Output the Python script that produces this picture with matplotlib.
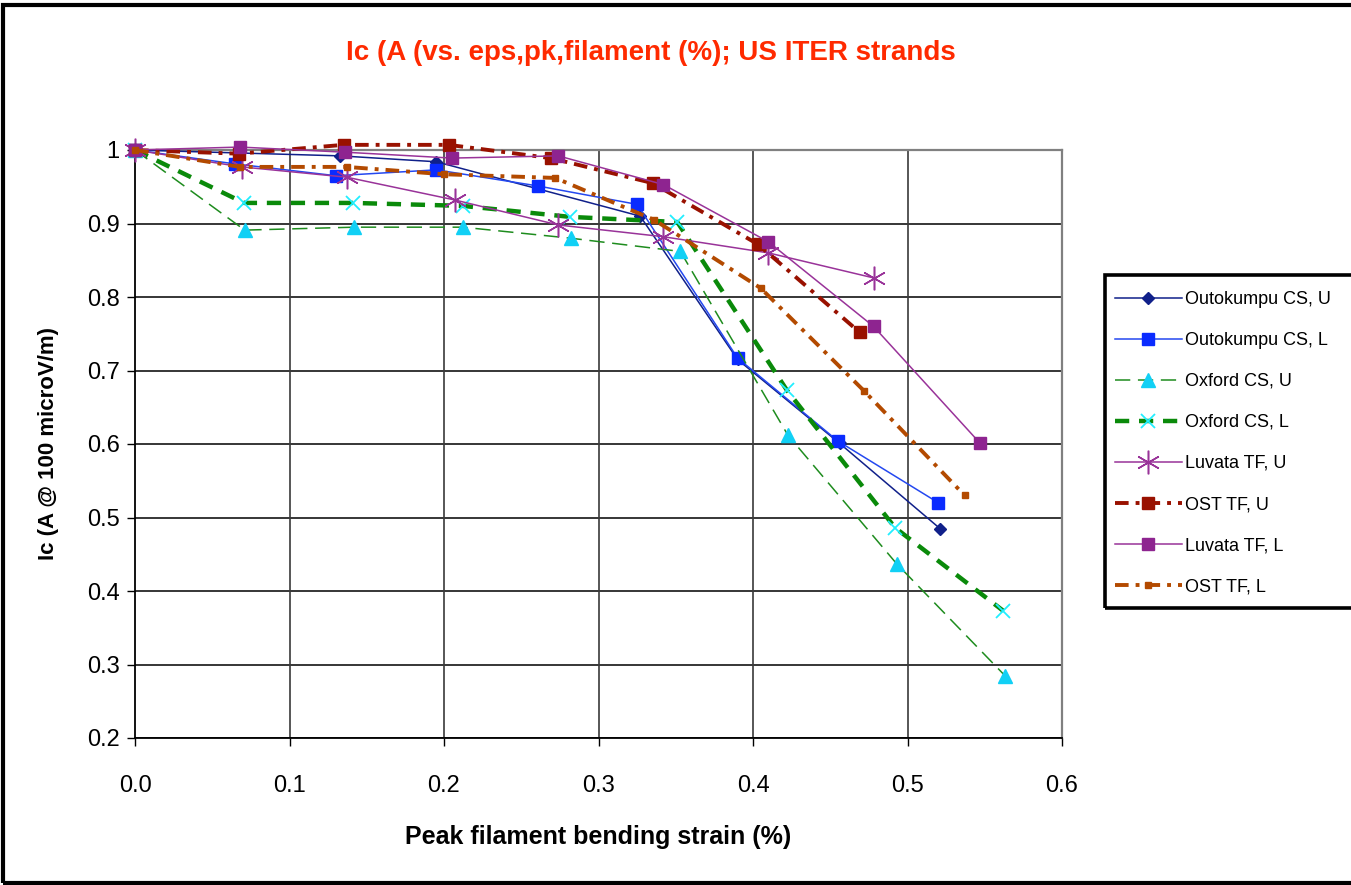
import matplotlib
matplotlib.use("Agg")
import matplotlib.pyplot as plt
from matplotlib.patches import Rectangle

# ---- data ----
out_u_x = [0.0, 0.133, 0.195, 0.327, 0.390, 0.456, 0.521]
out_u_y = [1.0, 0.992, 0.984, 0.910, 0.715, 0.601, 0.485]

out_l_x = [0.0, 0.065, 0.130, 0.195, 0.261, 0.325, 0.390, 0.455, 0.520]
out_l_y = [1.0, 0.981, 0.965, 0.973, 0.951, 0.926, 0.717, 0.604, 0.520]

oxf_u_x = [0.0, 0.071, 0.142, 0.212, 0.282, 0.353, 0.4226, 0.493, 0.563]
oxf_u_y = [1.0, 0.891, 0.895, 0.895, 0.880, 0.862, 0.612, 0.437, 0.285]

oxf_l_x = [0.0, 0.0706, 0.141, 0.212, 0.2816, 0.351, 0.422, 0.492, 0.562]
oxf_l_y = [1.0, 0.928, 0.928, 0.924, 0.909, 0.902, 0.673, 0.486, 0.373]

luv_u_x = [0.0, 0.069, 0.137, 0.207, 0.274, 0.342, 0.410, 0.478]
luv_u_y = [1.0, 0.977, 0.963, 0.932, 0.898, 0.882, 0.860, 0.826]

ost_u_x = [0.0, 0.067, 0.135, 0.203, 0.269, 0.335, 0.403, 0.469]
ost_u_y = [1.0, 0.995, 1.007, 1.007, 0.989, 0.955, 0.872, 0.752]

luv_l_x = [0.0, 0.068, 0.136, 0.205, 0.274, 0.342, 0.410, 0.478, 0.547]
luv_l_y = [1.0, 1.004, 0.997, 0.989, 0.992, 0.953, 0.875, 0.760, 0.601]

ost_l_x = [0.0, 0.068, 0.137, 0.200, 0.272, 0.336, 0.405, 0.472, 0.537]
ost_l_y = [1.0, 0.977, 0.977, 0.967, 0.962, 0.905, 0.812, 0.672, 0.530]

labels = ["Outokumpu CS, U", "Outokumpu CS, L", "Oxford CS, U", "Oxford CS, L",
          "Luvata TF, U", "OST TF, U", "Luvata TF, L", "OST TF, L"]
xticks = [0.0, 0.1, 0.2, 0.3, 0.4, 0.5, 0.6]
yticks = [0.2, 0.3, 0.4, 0.5, 0.6, 0.7, 0.8, 0.9, 1.0]
ytick_labels = ["0.2", "0.3", "0.4", "0.5", "0.6", "0.7", "0.8", "0.9", "1"]

SANS = ["Liberation Sans", "DejaVu Sans"]

fig = plt.figure(figsize=(13.51, 8.85), dpi=100)
ax = fig.add_axes([135/1351, 1-738/885, (1062-135)/1351, (738-150)/885])

# grid
for yv in yticks:
    ax.axhline(yv, color="black", lw=1.1, zorder=1)
for xv in xticks[1:-1]:
    ax.axvline(xv, color="#3a3a3a", lw=1.2, zorder=1)

asterisk = (6, 2, 0)
purple = "#993399"

series = [
    (out_u_x, out_u_y, dict(color="#10208A", lw=1.1, ls="-", marker="D", ms=6,
                            mfc="#10208A", mec="#10208A")),
    (out_l_x, out_l_y, dict(color="#2448F0", lw=1.1, ls="-", marker="s", ms=9,
                            mfc="#0A2BFF", mec="#0A2BFF")),
    (oxf_u_x, oxf_u_y, dict(color="#1E8C1E", lw=1.1, ls=(0, (10, 5)), marker="^", ms=10,
                            mfc="#11D0F5", mec="#11D0F5")),
    (oxf_l_x, oxf_l_y, dict(color="#0A8A0A", lw=3.2, ls=(0, (3.2, 2.2)), marker="x", ms=10,
                            mfc="#22EEFF", mec="#22EEFF", mew=1.3)),
    (luv_u_x, luv_u_y, dict(color=purple, lw=1.1, ls="-", marker=asterisk, ms=17,
                            mfc=purple, mec=purple, mew=1.1)),
    (ost_u_x, ost_u_y, dict(color="#991100", lw=2.8, ls=(0, (3.5, 1.8, 1, 1.8)), marker="s", ms=9,
                            mfc="#991100", mec="#991100")),
    (luv_l_x, luv_l_y, dict(color=purple, lw=1.1, ls="-", marker="s", ms=9,
                            mfc="#8E2490", mec="#8E2490")),
    (ost_l_x, ost_l_y, dict(color="#B34A00", lw=2.8, ls=(0, (3.5, 1.8, 1, 1.8)), marker="s", ms=5,
                            mfc="#B34A00", mec="#B34A00")),
]

handles = []
for (xs, ys, st), lab in zip(series, labels):
    ln, = ax.plot(xs, ys, label=lab, clip_on=False, zorder=3, **st)
    handles.append(ln)

ax.set_xlim(0.0, 0.6)
ax.set_ylim(0.2, 1.0)
ax.set_xticks(xticks)
ax.set_xticklabels([f"{v:.1f}" for v in xticks], fontsize=17, family=SANS)
ax.set_yticks(yticks)
ax.set_yticklabels(ytick_labels, fontsize=17, family=SANS)
ax.tick_params(axis="both", direction="out", length=6, width=1, color="black")
ax.tick_params(axis="x", pad=21)
ax.tick_params(axis="y", pad=5)

for s in ["left", "bottom"]:
    ax.spines[s].set_color("black")
    ax.spines[s].set_linewidth(1.3)
for s in ["top", "right"]:
    ax.spines[s].set_color("#808080")
    ax.spines[s].set_linewidth(1.6)

ax.set_xlabel("Peak filament bending strain (%)", fontsize=18, fontweight="bold",
              family=SANS, labelpad=20)
ax.set_ylabel("Ic (A @ 100 microV/m)", fontsize=16, fontweight="bold",
              family=SANS, labelpad=20)

fig.text(0.4815, 1-53/885, "Ic (A (vs. eps,pk,filament (%); US ITER strands",
         color="#FF2A00", fontsize=20, fontweight="bold", family=SANS,
         ha="center", va="center")

leg = fig.legend(handles=handles, labels=labels, loc="upper left",
                 bbox_to_anchor=(1105/1351, 1-281/885), borderaxespad=0,
                 frameon=False, handlelength=3.7, handletextpad=0.2,
                 labelspacing=1.33, borderpad=0.55, prop={"family": SANS, "size": 13})

# legend box (extends past the right edge as in the reference)
fig.add_artist(Rectangle((1105/1351, 1-608/885), 0.5, (608-275)/885,
                         transform=fig.transFigure, fill=False, edgecolor="black",
                         lw=2.6, clip_on=False))

# outer chart border
fig.add_artist(Rectangle((3/1351, 2/885), 1.5, 1-7/885, transform=fig.transFigure,
                         fill=False, edgecolor="black", lw=3, clip_on=False))

fig.savefig("out.png", dpi=100, facecolor="white")
